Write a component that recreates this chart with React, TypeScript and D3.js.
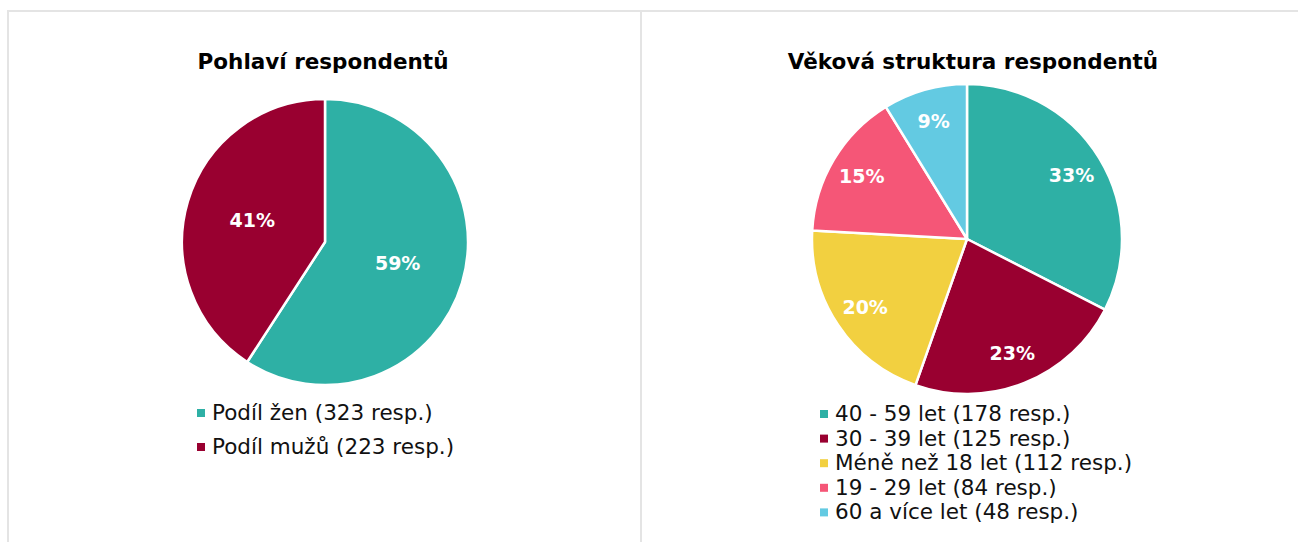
import React from 'react';
import * as d3 from 'd3';

// gender chart
const genderLabels = ['Podíl žen (323 resp.)', 'Podíl mužů (223 resp.)'];
const genderValues = [323, 223];
const genderColors = ['#2EB0A5', '#990030'];

// age chart
const ageLabels = [
    '40 - 59 let (178 resp.)',
    '30 - 39 let (125 resp.)',
    'Méně než 18 let (112 resp.)',
    '19 - 29 let (84 resp.)',
    '60 a více let (48 resp.)'
];
const ageValues = [178, 125, 112, 84, 48];
const ageColors = ['#2EB0A5', '#990030', '#F2D040', '#F55677', '#63CAE2'];

const FONT = '"DejaVu Sans", Verdana, sans-serif';

type PieProps = {
    title: string;
    titleX: number;
    cx: number;
    cy: number;
    radius: number;
    labelRatio: number;
    values: number[];
    colors: string[];
    labels: string[];
    legendX: number;
    legendY: number;
    legendStep: number;
};

function PieChart(props: PieProps) {
    const { title, titleX, cx, cy, radius, labelRatio, values, colors, labels, legendX, legendY, legendStep } = props;
    const total = d3.sum(values);
    const arcs = d3.pie<number>().sort(null).value(d => d)(values);
    const arc = d3.arc<d3.PieArcDatum<number>>().innerRadius(0).outerRadius(radius);
    const labelArc = d3.arc<d3.PieArcDatum<number>>()
        .innerRadius(radius * labelRatio)
        .outerRadius(radius * labelRatio);
    const pct = d3.format('.0%');

    return (
        <g>
            <text x={titleX} y={69} textAnchor="middle" fontFamily={FONT} fontWeight="bold" fontSize={21.5} fill="#000">
                {title}
            </text>
            <g transform={`translate(${cx},${cy})`}>
                {arcs.map((a, i) => (
                    <path key={i} d={arc(a) || ''} fill={colors[i]} stroke="#fff" strokeWidth={2.5} strokeLinejoin="round" />
                ))}
                {arcs.map((a, i) => {
                    const [x, y] = labelArc.centroid(a);
                    return (
                        <text key={'l' + i} x={x} y={y} dy="0.36em" textAnchor="middle" fontFamily={FONT}
                            fontWeight="bold" fontSize={19} fill="#fff">
                            {pct(Math.round(a.data / total * 100) / 100)}
                        </text>
                    );
                })}
            </g>
            {labels.map((l, i) => (
                <g key={'g' + i} transform={`translate(${legendX},${legendY + i * legendStep})`}>
                    <rect x={-15} y={-11} width={8} height={8} fill={colors[i]} />
                    <text x={0} y={0} fontFamily={FONT} fontSize={21.5} fill="#111">{l}</text>
                </g>
            ))}
        </g>
    );
}

export default function App() {
    return (
        <div style={{ position: 'absolute', left: 0, top: 0 }}>
            <svg width={1298} height={542} style={{ display: 'block', background: '#fff' }}>
                {/* panel borders */}
                <line x1={7} x2={1298} y1={11} y2={11} stroke="#e4e4e4" strokeWidth={2} />
                <line x1={8} x2={8} y1={10} y2={542} stroke="#e4e4e4" strokeWidth={2} />
                <line x1={641} x2={641} y1={10} y2={542} stroke="#e4e4e4" strokeWidth={2} />

                <PieChart
                    title="Pohlaví respondentů"
                    titleX={323}
                    cx={325}
                    cy={242}
                    radius={143}
                    labelRatio={0.53}
                    values={genderValues}
                    colors={genderColors}
                    labels={genderLabels}
                    legendX={212}
                    legendY={420}
                    legendStep={34}
                />
                <PieChart
                    title="Věková struktura respondentů"
                    titleX={973}
                    cx={967}
                    cy={239}
                    radius={155}
                    labelRatio={0.79}
                    values={ageValues}
                    colors={ageColors}
                    labels={ageLabels}
                    legendX={835}
                    legendY={421}
                    legendStep={24.6}
                />
            </svg>
        </div>
    );
}
